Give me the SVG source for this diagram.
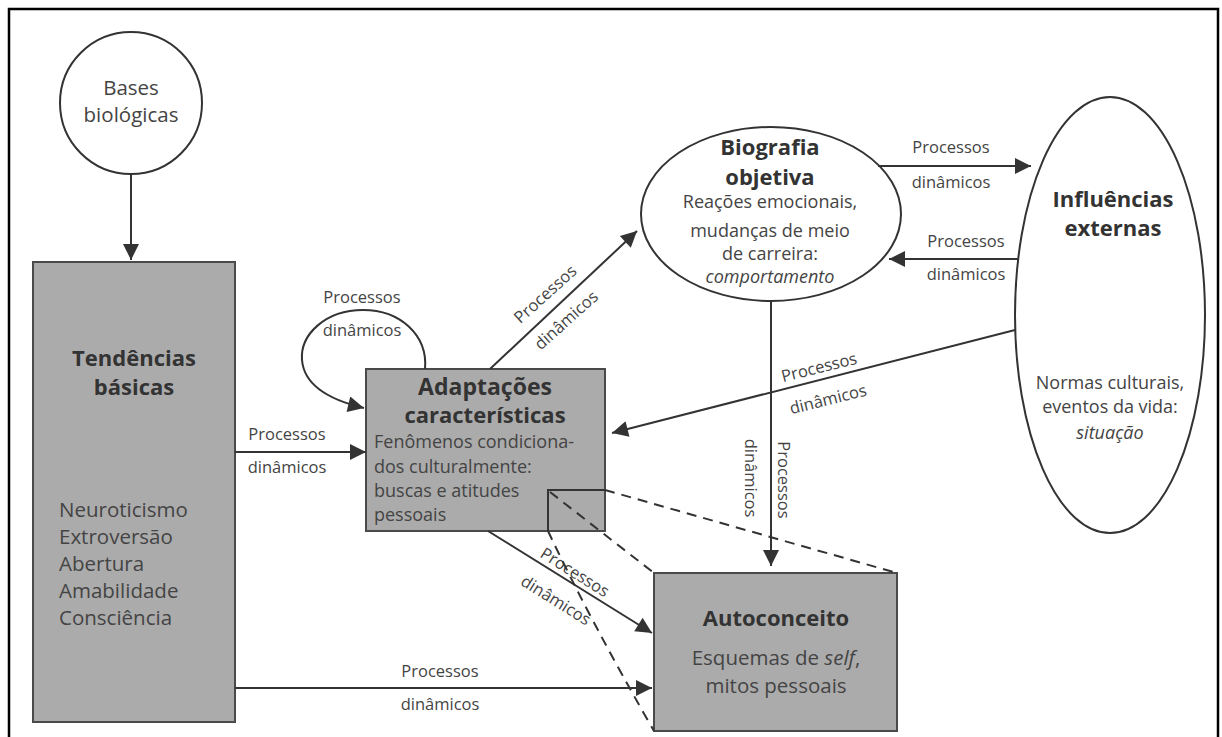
<svg xmlns="http://www.w3.org/2000/svg" width="1222" height="737" viewBox="0 0 1222 737">
<style>
text{font-family:"Open Sans","Noto Sans","Liberation Sans",sans-serif;fill:#444}
.lbl{font-size:16.5px}
.t{font-size:20.5px}
.s{font-size:18px}
.h{font-size:22px;font-weight:bold;fill:#333}
.it{font-style:italic}
.box{fill:#ababab;stroke:#4a4a4a;stroke-width:2}
.ell{fill:#fff;stroke:#333;stroke-width:2}
.ln{fill:none;stroke:#333;stroke-width:2}
.arr{fill:none;stroke:#333;stroke-width:2;marker-end:url(#ah)}
.dash{fill:none;stroke:#333;stroke-width:2;stroke-dasharray:10 7}
</style>
<defs>
<marker id="ah" viewBox="0 0 10 10" refX="10" refY="5" markerWidth="18" markerHeight="16" markerUnits="userSpaceOnUse" orient="auto">
<path d="M0,0 L10,5 L0,10 z" fill="#333"/>
</marker>
</defs>
<rect width="1222" height="737" fill="#fff"/>
<rect x="9" y="9" width="1209" height="740" fill="none" stroke="#000" stroke-width="2.5"/>

<g id="bases">
<circle cx="131" cy="103" r="71" class="ell"/>
<text x="131" y="95" text-anchor="middle" class="t">Bases</text>
<text x="131" y="122" text-anchor="middle" class="t">biológicas</text>
</g>

<g id="tendencias">
<rect x="33" y="262" width="202" height="460" class="box"/>
<text x="134" y="366" text-anchor="middle" class="h">Tendências</text>
<text x="134" y="395" text-anchor="middle" class="h">básicas</text>
<text x="59" y="517" class="t">Neuroticismo</text>
<text x="59" y="544" class="t">Extroversão</text>
<text x="59" y="571" class="t">Abertura</text>
<text x="59" y="598" class="t">Amabilidade</text>
<text x="59" y="625" class="t">Consciência</text>
</g>

<g id="adaptacoes">
<rect x="366" y="369" width="239" height="162" class="box"/>
<text x="485" y="395" text-anchor="middle" class="h" style="font-size:23px">Adaptações</text>
<text x="485" y="423" text-anchor="middle" class="h">características</text>
<text x="374" y="448" class="s">Fenômenos condiciona-</text>
<text x="374" y="473" class="s">dos culturalmente:</text>
<text x="374" y="497" class="s">buscas e atitudes</text>
<text x="374" y="521" class="s">pessoais</text>
<path d="M548,531 L548,490 L605,490" class="ln"/>
</g>

<g id="biografia">
<ellipse cx="771" cy="214" rx="130" ry="87" class="ell"/>
<text x="770" y="155" text-anchor="middle" class="h">Biografia</text>
<text x="770" y="185" text-anchor="middle" class="h">objetiva</text>
<text x="770" y="208" text-anchor="middle" class="s">Reações emocionais,</text>
<text x="770" y="237" text-anchor="middle" class="s">mudanças de meio</text>
<text x="770" y="260" text-anchor="middle" class="s">de carreira:</text>
<text x="770" y="283" text-anchor="middle" class="s it">comportamento</text>
</g>

<g id="influencias">
<ellipse cx="1110" cy="315" rx="95" ry="218" class="ell"/>
<text x="1113" y="207" text-anchor="middle" class="h">Influências</text>
<text x="1113" y="236" text-anchor="middle" class="h">externas</text>
<text x="1110" y="389" text-anchor="middle" class="s">Normas culturais,</text>
<text x="1110" y="413" text-anchor="middle" class="s">eventos da vida:</text>
<text x="1110" y="439" text-anchor="middle" class="s it">situação</text>
</g>

<g id="autoconceito">
<rect x="654" y="573" width="243" height="158" class="box"/>
<text x="776" y="626" text-anchor="middle" class="h">Autoconceito</text>
<text x="776" y="665" text-anchor="middle" class="t">Esquemas de <tspan class="it">self</tspan>,</text>
<text x="776" y="693" text-anchor="middle" class="t">mitos pessoais</text>
</g>

<g id="connectors">
<line x1="131" y1="174" x2="131" y2="260" class="arr"/>
<line x1="235" y1="452" x2="366" y2="452" class="arr"/>
<text x="287" y="440" text-anchor="middle" class="lbl">Processos</text>
<text x="287" y="473" text-anchor="middle" class="lbl">dinâmicos</text>

<path d="M425,369 C428,335 400,310 363,310 C325,310 300,335 302,360 C304,385 330,400 364,408" class="arr"/>
<text x="362" y="303" text-anchor="middle" class="lbl">Processos</text>
<text x="362" y="336" text-anchor="middle" class="lbl">dinâmicos</text>

<line x1="490" y1="369" x2="637" y2="231" class="arr"/>
<text transform="translate(545,294) rotate(-42)" y="6" text-anchor="middle" class="lbl">Processos</text>
<text transform="translate(566,320) rotate(-42)" y="6" text-anchor="middle" class="lbl">dinâmicos</text>

<line x1="878" y1="166" x2="1031" y2="166" class="arr"/>
<text x="951" y="153" text-anchor="middle" class="lbl">Processos</text>
<text x="951" y="188" text-anchor="middle" class="lbl">dinâmicos</text>

<line x1="1019" y1="259" x2="889" y2="259" class="arr"/>
<text x="966" y="247" text-anchor="middle" class="lbl">Processos</text>
<text x="966" y="280" text-anchor="middle" class="lbl">dinâmicos</text>

<line x1="1015" y1="330" x2="612" y2="433" class="arr"/>
<text transform="translate(819,367) rotate(-14)" y="6" text-anchor="middle" class="lbl">Processos</text>
<text transform="translate(828,399) rotate(-14)" y="6" text-anchor="middle" class="lbl">dinâmicos</text>

<line x1="771" y1="301" x2="771" y2="566" class="arr"/>
<text transform="translate(778,480) rotate(90)" text-anchor="middle" class="lbl">Processos</text>
<text transform="translate(745,478) rotate(90)" text-anchor="middle" class="lbl">dinâmicos</text>

<line x1="488" y1="531" x2="652" y2="633" class="arr"/>
<text transform="translate(575,572) rotate(32)" y="6" text-anchor="middle" class="lbl">Processos</text>
<text transform="translate(556,600) rotate(32)" y="6" text-anchor="middle" class="lbl">dinâmicos</text>

<line x1="235" y1="688" x2="652" y2="688" class="arr"/>
<text x="440" y="677" text-anchor="middle" class="lbl">Processos</text>
<text x="440" y="710" text-anchor="middle" class="lbl">dinâmicos</text>

<line x1="605" y1="490" x2="897" y2="573" class="dash"/>
<line x1="550" y1="492" x2="654" y2="573" class="dash"/>
<path d="M548,531 Q590,620 654,731" class="dash"/>
</g>
</svg>
